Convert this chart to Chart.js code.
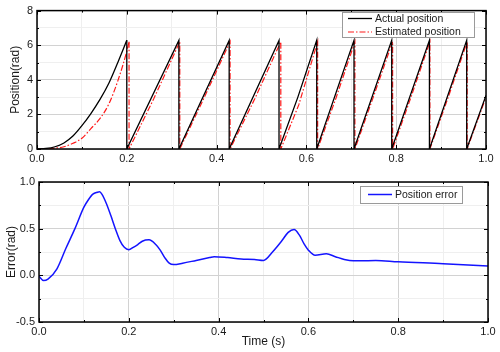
<!DOCTYPE html>
<html><head><meta charset="utf-8">
<script src="https://cdn.jsdelivr.net/npm/chart.js@4/dist/chart.umd.min.js"></script>
<style>
html,body{margin:0;padding:0;background:#fff;width:500px;height:352px;overflow:hidden;}
#c1{position:absolute;left:0;top:0;}
#c2{position:absolute;left:0;top:170px;}
</style></head><body>
<canvas id="c1" width="500" height="170"></canvas>
<canvas id="c2" width="500" height="182"></canvas>
<script>
// ---------- data ----------
// first (accelerating) ramp, drawn smooth
const actualRampTime = [0,0.02,0.04,0.06,0.08,0.10,0.12,0.14,0.16,0.18,0.200];
const actualRampPos  = [0,0.03,0.13,0.35,0.75,1.35,2.05,2.85,3.8,5.0,6.28];
const estRampTime = [0,0.02,0.04,0.06,0.08,0.10,0.12,0.14,0.16,0.18,0.20,0.205];
const estRampPos  = [0,0.0,0.05,0.13,0.33,0.62,1.18,1.75,2.6,3.94,5.65,6.2];
// sawtooth part (wrap at 2*pi)
const actualTime = [0.200,0.200,0.316, 0.316,0.428, 0.428,0.539, 0.539,0.581,0.623, 0.623,0.706,
  0.706,0.790, 0.790,0.874, 0.874,0.957, 0.957,1.0];
const actualPos  = [6.28,0,6.28, 0,6.28, 0,6.28, 0,3.0,6.28, 0,6.28,
  0,6.28, 0,6.28, 0,6.28, 0,3.1];
const estTime = [0.205,0.205,0.260,0.318, 0.318,0.372,0.430, 0.430,0.485,0.543, 0.543,0.583,0.625,
  0.625,0.666,0.708, 0.708,0.749,0.792, 0.792,0.833,0.875, 0.875,0.916,0.958,
  0.958,1.0];
const estPos = [6.2,0,2.9,6.2, 0,2.95,6.2, 0,2.9,6.2, 0,2.55,6.2,
  0,2.95,6.2, 0,3.0,6.2, 0,3.0,6.2, 0,3.0,6.2,
  0,3.0];
const errTime = [0,0.01,0.02,0.04,0.06,0.08,0.10,0.11,0.12,0.13,0.135,0.14,0.15,0.16,0.17,0.18,0.19,0.20,
  0.21,0.22,0.23,0.245,0.26,0.27,0.28,0.29,0.30,0.32,0.35,0.38,0.39,0.42,0.45,0.48,0.50,
  0.52,0.54,0.555,0.568,0.58,0.59,0.60,0.615,0.64,0.66,0.68,0.70,0.75,0.80,0.90,1.0];
const errVal = [-0.01,-0.055,-0.04,0.07,0.29,0.50,0.73,0.81,0.87,0.89,0.895,0.87,0.77,0.64,0.50,0.375,0.30,0.275,
  0.30,0.33,0.365,0.38,0.33,0.27,0.19,0.13,0.115,0.13,0.16,0.19,0.20,0.19,0.175,0.17,0.16,
  0.25,0.365,0.46,0.49,0.43,0.34,0.27,0.215,0.23,0.20,0.17,0.155,0.16,0.145,0.125,0.10];
const xTickStep = 0.1, xLabelStep = 0.2;
const topYStep = 1, topYLabelStep = 2;
const botYStep = 0.25, botYLabelStep = 0.5;

// ---------- helpers ----------
const FONT = '"Liberation Sans", Arial, sans-serif';
const TXT = '#1a1a1a';
const RED = '#ff1a1a', BLUE = '#1414ff';
const DASHDOT = [6, 2, 1.5, 2];
const pts = (xs, ys) => xs.map((x, i) => ({x, y: ys[i]}));
const isMul = (v, s) => Math.abs(v / s - Math.round(v / s)) < 1e-6;

const framePlugin = {
  id: 'frame',
  afterDatasetsDraw(chart, args, o) {
    const {ctx, chartArea: a} = chart;
    const xs = chart.scales.x, ys = chart.scales.y;
    ctx.save();
    ctx.strokeStyle = '#000';
    ctx.lineWidth = 1;
    ctx.beginPath();
    xs.ticks.forEach(t => {
      const p = Math.round(xs.getPixelForValue(t.value)) + 0.5;
      const len = isMul(t.value, o.xMajor) ? 4 : 2;
      ctx.moveTo(p, a.bottom); ctx.lineTo(p, a.bottom - len);
      ctx.moveTo(p, a.top); ctx.lineTo(p, a.top + len);
    });
    ys.ticks.forEach(t => {
      const p = Math.round(ys.getPixelForValue(t.value)) + 0.5;
      const len = isMul(t.value, o.yMajor) ? 4 : 2;
      ctx.moveTo(a.left, p); ctx.lineTo(a.left + len, p);
      ctx.moveTo(a.right, p); ctx.lineTo(a.right - len, p);
    });
    ctx.stroke();
    ctx.lineWidth = 1.5;
    ctx.strokeRect(a.left, a.top, a.right - a.left, a.bottom - a.top);
    // legend
    const L = o.legend;
    ctx.fillStyle = '#fff';
    ctx.fillRect(L.x, L.y, L.w, L.h);
    ctx.strokeStyle = '#9a9a9a';
    ctx.lineWidth = 1;
    ctx.strokeRect(L.x + 0.5, L.y + 0.5, L.w, L.h);
    ctx.font = '10.5px ' + FONT;
    ctx.textBaseline = 'middle';
    ctx.fillStyle = TXT;
    L.items.forEach((it, i) => {
      const yy = L.y + L.rowTop + i * L.rowH;
      ctx.strokeStyle = it.color;
      ctx.lineWidth = it.width;
      ctx.setLineDash(it.dash || []);
      ctx.beginPath();
      ctx.moveTo(L.x + L.lineX0, yy); ctx.lineTo(L.x + L.lineX1, yy);
      ctx.stroke();
      ctx.setLineDash([]);
      ctx.fillText(it.label, L.x + L.textX, yy + 0.5);
    });
    ctx.restore();
  }
};

function gridColor(step) {
  return c => (c.tick && isMul(c.tick.value, step)) ? '#d2d2d2' : '#efefef';
}

function makeChart(id, datasets, cfg) {
  return new Chart(document.getElementById(id), {
    type: 'scatter',
    data: {datasets},
    plugins: [framePlugin],
    options: {
      responsive: false, animation: false, devicePixelRatio: 1,
      layout: {padding: cfg.padding},
      plugins: {legend: {display: false}, tooltip: {enabled: false}, frame: cfg.frame},
      elements: {point: {radius: 0}},
      scales: {
        x: {
          type: 'linear', min: 0, max: 1,
          afterFit: s => { s.height = cfg.xHeight; },
          border: {display: false},
          grid: {color: gridColor(xLabelStep), drawTicks: false, lineWidth: 1},
          ticks: {stepSize: xTickStep, autoSkip: false, maxRotation: 0, padding: 3,
            color: TXT, font: {family: FONT, size: 11},
            callback: v => isMul(v, xLabelStep) ? v.toFixed(1) : ''},
          title: cfg.xTitle
        },
        y: {
          type: 'linear', min: cfg.yMin, max: cfg.yMax,
          afterFit: s => { s.width = cfg.yWidth; },
          border: {display: false},
          grid: {color: gridColor(cfg.yLabelStep), drawTicks: false, lineWidth: 1},
          ticks: {stepSize: cfg.yStep, autoSkip: false, padding: 4,
            color: TXT, font: {family: FONT, size: 11},
            callback: cfg.yCb},
          title: {display: true, text: cfg.yTitle, color: TXT,
            font: {family: FONT, size: 12}, padding: {top: cfg.yTitlePad, bottom: 0}}
        }
      }
    }
  });
}

makeChart('c1', [
  {data: pts(actualRampTime, actualRampPos), showLine: true, borderColor: '#000', borderWidth: 1.3,
   cubicInterpolationMode: 'monotone'},
  {data: pts(actualTime, actualPos), showLine: true, borderColor: '#000', borderWidth: 1.3, tension: 0},
  {data: pts(estRampTime, estRampPos), showLine: true, borderColor: RED, borderWidth: 1.2,
   borderDash: DASHDOT, cubicInterpolationMode: 'monotone'},
  {data: pts(estTime, estPos), showLine: true, borderColor: RED, borderWidth: 1.2,
   borderDash: DASHDOT, tension: 0}
], {
  padding: {top: 9, right: 14, left: 0, bottom: 0},
  xHeight: 21, yWidth: 37, yMin: 0, yMax: 8, yStep: topYStep, yLabelStep: topYLabelStep,
  yCb: v => isMul(v, topYLabelStep) ? String(v) : '',
  yTitle: 'Position(rad)', yTitlePad: 8,
  xTitle: {display: false},
  frame: {xMajor: xLabelStep, yMajor: topYLabelStep,
    legend: {x: 342, y: 12, w: 132, h: 25, rowTop: 6.5, rowH: 13.5, lineX0: 6, lineX1: 30, textX: 33,
      items: [{label: 'Actual position', color: '#000', width: 1.3},
              {label: 'Estimated position', color: RED, width: 1.2, dash: DASHDOT}]}}
});

makeChart('c2', [
  {data: pts(errTime, errVal), showLine: true, borderColor: BLUE, borderWidth: 1.5,
   cubicInterpolationMode: 'monotone'}
], {
  padding: {top: 12, right: 12, left: 0, bottom: 0},
  xHeight: 30, yWidth: 39, yMin: -0.5, yMax: 1.0, yStep: botYStep, yLabelStep: botYLabelStep,
  yCb: v => isMul(v, botYLabelStep) ? v.toFixed(1) : '',
  yTitle: 'Error(rad)', yTitlePad: 4,
  xTitle: {display: true, text: 'Time (s)', color: TXT, font: {family: FONT, size: 12},
    padding: {top: 0, bottom: 3}},
  frame: {xMajor: xLabelStep, yMajor: botYLabelStep,
    legend: {x: 360, y: 16, w: 102, h: 17, rowTop: 8.5, rowH: 13, lineX0: 8, lineX1: 32, textX: 35,
      items: [{label: 'Position error', color: BLUE, width: 1.5}]}}
});
</script>
</body></html>
